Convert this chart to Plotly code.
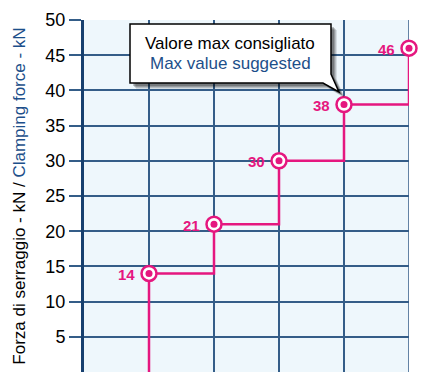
import plotly.graph_objects as go

# Clamping force steps (kN) at successive positions
positions = [1, 2, 3, 4, 5]
forces = [14, 21, 30, 38, 46]
y_ticks = [5, 10, 15, 20, 25, 30, 35, 40, 45, 50]

W, H = 431, 372
ML, MR, MT, MB = 84, 22, 20, 0
X_RANGE = [0, 5]
Y_RANGE = [0, 50]

MAGENTA = "#e5177f"
GRID = "#345d88"
AXIS = "#17406f"
BLUE_TXT = "#1d4f8a"
FONT = "Liberation Sans Narrow, Liberation Sans, Arial, sans-serif"


def px_to_data(px, py):
    pw = W - ML - MR
    ph = H - MT - MB
    x = X_RANGE[0] + (px - ML) / pw * (X_RANGE[1] - X_RANGE[0])
    y = Y_RANGE[0] + (H - MB - py) / ph * (Y_RANGE[1] - Y_RANGE[0])
    return x, y


fig = go.Figure()

# step line, starting from the bottom of the first position
step_x = [positions[0]] + positions
step_y = [0] + forces
fig.add_trace(go.Scatter(
    x=step_x, y=step_y, mode="lines", line_shape="hv",
    line=dict(color=MAGENTA, width=2.5), hoverinfo="skip", showlegend=False,
    cliponaxis=False,
))

# ring markers
fig.add_trace(go.Scatter(
    x=positions, y=forces, mode="markers",
    marker=dict(size=15, color="white", line=dict(color=MAGENTA, width=2.5)),
    showlegend=False, cliponaxis=False,
))
fig.add_trace(go.Scatter(
    x=positions, y=forces, mode="markers",
    marker=dict(size=7, color=MAGENTA), showlegend=False, hoverinfo="skip",
    cliponaxis=False,
))


def bubble_path(dx=0, dy=0):
    pts = [(130, 24), (331, 24), (331, 74), (339, 92), (323, 83), (130, 83)]
    coords = [px_to_data(x + dx, y + dy) for x, y in pts]
    d = "M " + " L ".join(f"{x:.4f},{y:.4f}" for x, y in coords) + " Z"
    return d


shapes = [
    # grid line along the right edge of the plot area
    dict(type="line", x0=X_RANGE[1], x1=X_RANGE[1], y0=Y_RANGE[0], y1=Y_RANGE[1],
         xref="x", yref="y", line=dict(color=GRID, width=1.5), layer="below"),
]
# soft shadow behind the callout
for i, op in enumerate([0.10, 0.14, 0.18, 0.22]):
    off = 6 - i
    shapes.append(dict(type="path", path=bubble_path(off, off), xref="x", yref="y",
                       fillcolor=f"rgba(0,0,0,{op})", line=dict(width=0), layer="above"))
shapes.append(dict(type="path", path=bubble_path(), xref="x", yref="y",
                   fillcolor="white", line=dict(color="black", width=1.5), layer="above"))

x1, y1 = px_to_data(230, 43)
x2, y2 = px_to_data(230, 63)
annotations = [
    dict(x=x1, y=y1, xref="x", yref="y", text="Valore max consigliato", showarrow=False,
         font=dict(family=FONT, size=17, color="black")),
    dict(x=x2, y=y2, xref="x", yref="y", text="Max value suggested", showarrow=False,
         font=dict(family=FONT, size=17, color=BLUE_TXT)),
]
# value labels to the left of each point
for p, f in zip(positions, forces):
    annotations.append(dict(x=p, y=f, xref="x", yref="y", text=f"<b>{f}</b>",
                            showarrow=False, xanchor="right", xshift=-12, yshift=-1,
                            font=dict(family=FONT, size=15, color=MAGENTA)))

fig.update_layout(
    width=W, height=H,
    margin=dict(l=ML, r=MR, t=MT, b=MB),
    paper_bgcolor="white", plot_bgcolor="#eef7fc",
    shapes=shapes, annotations=annotations,
    xaxis=dict(range=X_RANGE, dtick=1, showgrid=True, gridcolor=GRID, gridwidth=1.5,
               showticklabels=False, zeroline=False, showline=False, fixedrange=True),
    yaxis=dict(range=Y_RANGE, tickvals=y_ticks, showgrid=True, gridcolor=GRID, gridwidth=1.5,
               ticks="outside", ticklen=12, tickcolor=GRID, tickwidth=1.5,
               tickfont=dict(family=FONT, size=18, color="black"),
               zeroline=False, showline=True, linecolor=AXIS, linewidth=3,
               title=dict(text="Forza di serraggio - kN / <span style='color:%s'>Clamping force - kN</span>" % BLUE_TXT,
                          font=dict(family=FONT, size=17, color="black"), standoff=16)),
)

fig.write_html("out.html")
